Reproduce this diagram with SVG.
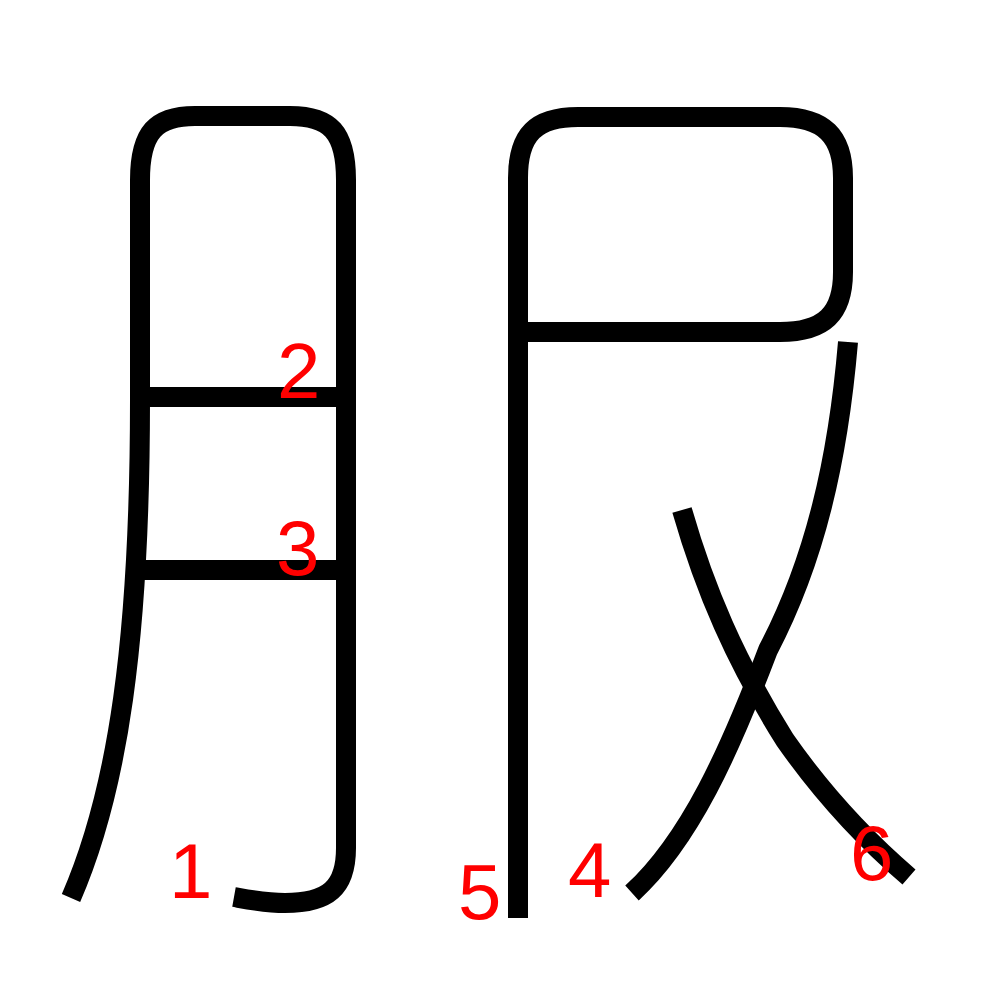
<svg xmlns="http://www.w3.org/2000/svg" width="1000" height="1000" viewBox="0 0 1000 1000">
  <style>
    .stroke { fill: none; stroke: #000; stroke-width: 20; stroke-linecap: butt; stroke-linejoin: miter; }
    .num { font-family: "Liberation Sans", Arial, sans-serif; font-size: 78px; fill: #ff0000; }
  </style>
  <rect width="1000" height="1000" fill="#fff"/>
  <g id="strokes">
    <g id="s1"><path class="stroke" d="M71,898 C118,790 140,640 140,400 L140,180 C140,132 156,116 195,116 L290,116 C330,116 346,132 346,180 L346,848 C346,888 328,903 285,903 C266,903 251,900 234,897"/></g>
    <g id="s2"><path class="stroke" d="M148,397 L338,397"/></g>
    <g id="s3"><path class="stroke" d="M143,570 L338,570"/></g>
    <g id="s5"><path class="stroke" d="M518,918 L518,178 C518,134 536,117 578,117 L780,117 C824,117 843,136 843,178 L843,272 C843,314 824,332 780,332 L528,332"/></g>
    <g id="s4"><path class="stroke" d="M848,342 C838,460 815,560 768,650 C730,750 690,840 632,893"/></g>
    <g id="s6"><path class="stroke" d="M682,510 C705,590 735,660 785,740 C820,790 860,835 909,877"/></g>
  </g>
  <g id="labels">
    <text class="num" x="169" y="898">1</text>
    <text class="num" x="277" y="398">2</text>
    <text class="num" x="276" y="575">3</text>
    <text class="num" x="568" y="897">4</text>
    <text class="num" x="458" y="919">5</text>
    <text class="num" x="850" y="880">6</text>
  </g>
</svg>
